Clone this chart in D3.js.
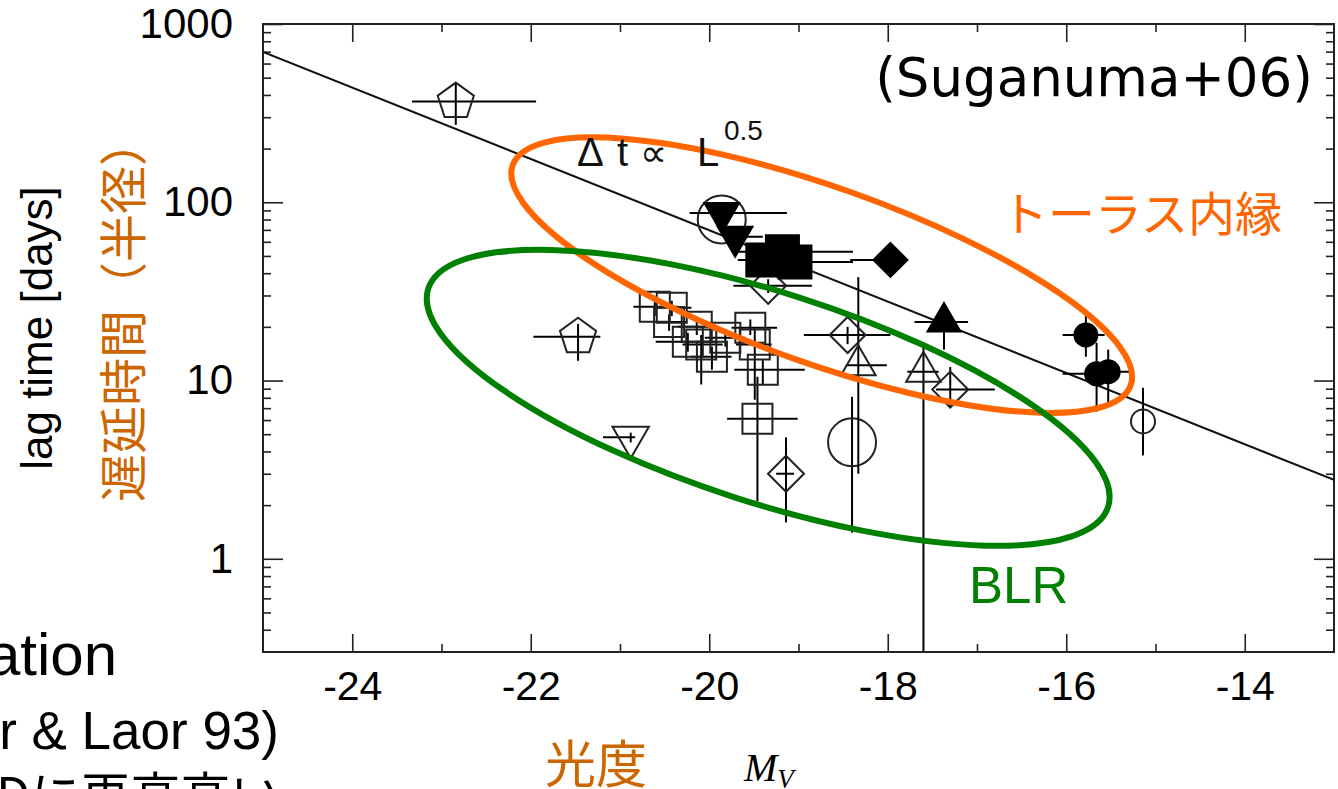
<!DOCTYPE html>
<html><head><meta charset="utf-8">
<script src="https://cdn.jsdelivr.net/npm/d3@7"></script>
<style>body{margin:0;background:#fff;overflow:hidden}</style>
</head><body><svg id="c" width="1338" height="789"></svg>
<script>
// ---------- data ----------
const xTicks = [-24, -22, -20, -18, -16, -14];
const xMinorTicks = [-23, -21, -19, -17, -15];
const yTicks = [1, 10, 100, 1000];
const yMinorTicks = [0.4,0.5,0.6,0.7,0.8,0.9, 2,3,4,5,6,7,8,9, 20,30,40,50,60,70,80,90, 200,300,400,500,600,700,800,900];
const xDomain = [-25, -13];
const yDomain = [0.3, 1000];

// rows: [M_V, lag, M_lo, M_hi, lag_lo, lag_hi]
const openPentagons = [
  [-22.84, 367, -23.33, -21.94, 272, 467],
  [-21.47, 17.6, -21.97, -21.22, 12.9, 20.8]
];
const openInvTriangles = [
  [-20.88, 4.8, -21.19, -20.83, 4.5, 5.1]
];
const openCirclesLarge = [
  [-19.86, 80, -19.86, -19.86, 80, 80],
  [-18.40, 4.5, -18.40, -18.40, 1.4, 8.1]
];
const openCirclesSmall = [
  [-15.14, 5.9, -15.14, -15.14, 3.8, 9.1]
];
const openTriangles = [
  [-18.33, 12.2, -18.47, -18.01, 3.0, 38],
  [-17.60, 11.2, -17.78, -17.43, 0.2, 15.5]
];
const openDiamonds = [
  [-19.34, 34.0, -19.73, -18.85, 31, 37],
  [-18.45, 18.0, -18.94, -17.97, 16, 20],
  [-17.30, 8.9, -17.46, -16.80, 7.1, 11.9],
  [-19.14, 3.0, -19.25, -19.05, 1.6, 4.8]
];
const openSquares = [
  [-20.61, 25.9, -20.85, -20.35, 23, 29],
  [-20.42, 25.6, -20.60, -20.20, 23, 28],
  [-20.45, 21.3, -20.60, -20.25, 19, 23.5],
  [-20.24, 16.5, -20.60, -19.90, 14.5, 18.5],
  [-20.14, 20.0, -20.35, -19.90, 18, 22],
  [-20.09, 15.9, -20.30, -19.85, 9.5, 18],
  [-19.97, 13.6, -20.20, -19.75, 11.5, 15.5],
  [-19.82, 17.4, -20.05, -19.60, 15.5, 19.5],
  [-19.54, 19.8, -19.75, -19.24, 18, 22],
  [-19.49, 15.9, -19.70, -19.30, 7.8, 19.5],
  [-19.40, 11.5, -19.72, -18.93, 9.5, 13],
  [-19.46, 6.1, -19.80, -19.01, 2.1, 10.5]
];
const filledInvTriangles = [
  [-19.86, 87, -20.22, -19.13, 80, 95],
  [-19.71, 64, -19.82, -19.40, 60, 68]
];
const filledSquares = [
  [-19.18, 52.7, -19.68, -18.39, 50, 56],
  [-19.40, 47.5, -19.68, -18.90, 45, 50],
  [-19.04, 46.3, -19.30, -18.39, 44, 49]
];
const filledDiamonds = [
  [-17.97, 47.5, -18.42, -17.97, 47.5, 47.5]
];
const filledTriangles = [
  [-17.37, 21.3, -17.70, -17.10, 14.9, 22]
];
const filledCircles = [
  [-15.78, 18.0, -16.04, -15.57, 13.6, 24],
  [-15.66, 10.9, -16.04, -15.66, 6.7, 16.3],
  [-15.53, 11.2, -15.53, -15.26, 7.1, 14.9]
];
// fitted relation  Δt ∝ L^0.5
const fitM = [-25, -13];
const fitLag = [697, 2.77];
// annotation ellipses: centre in data units
const ellipseCentersM = [-18.74, -19.34];
const ellipseCentersLag = [39.0, 8.0];

// ---------- setup ----------
const svg = d3.select("#c");
const x = d3.scaleLinear().domain(xDomain).range([263, 1334]);
const y = d3.scaleLog().domain(yDomain).range([652, 24]);
const FONT = "'Liberation Sans', Arial, sans-serif";
const JP = "'Noto Sans CJK JP', sans-serif";

svg.append("defs").append("clipPath").attr("id","pc")
  .append("rect").attr("x",263).attr("y",24).attr("width",1071).attr("height",628);

// ---------- axes ----------
function styleAxis(g){ g.select(".domain").remove(); g.selectAll(".tick line").attr("stroke","#222").attr("stroke-width",1.6); g.selectAll("text").attr("font-family",FONT).attr("fill","#000"); }
svg.append("g").attr("transform","translate(0,652)")
  .call(d3.axisBottom(x).tickValues(xTicks).tickSize(-18).tickPadding(19).tickFormat(d=>String(d)))
  .call(styleAxis).selectAll("text").attr("font-size",41);
svg.append("g").attr("transform","translate(0,652)")
  .call(d3.axisBottom(x).tickValues(xMinorTicks).tickSize(-8).tickFormat("")).call(styleAxis);
svg.append("g").attr("transform","translate(0,24)")
  .call(d3.axisTop(x).tickValues(xTicks).tickSize(-18).tickFormat("")).call(styleAxis);
svg.append("g").attr("transform","translate(0,24)")
  .call(d3.axisTop(x).tickValues(xMinorTicks).tickSize(-8).tickFormat("")).call(styleAxis);
svg.append("g").attr("transform","translate(263,0)")
  .call(d3.axisLeft(y).tickValues(yTicks).tickSize(-20).tickPadding(30).tickFormat(d=>String(d)))
  .call(styleAxis).selectAll("text").attr("font-size",42);
svg.append("g").attr("transform","translate(263,0)")
  .call(d3.axisLeft(y).tickValues(yMinorTicks).tickSize(-8).tickFormat("")).call(styleAxis);
svg.append("g").attr("transform","translate(1334,0)")
  .call(d3.axisRight(y).tickValues(yTicks).tickSize(-20).tickFormat("")).call(styleAxis);
svg.append("g").attr("transform","translate(1334,0)")
  .call(d3.axisRight(y).tickValues(yMinorTicks).tickSize(-8).tickFormat("")).call(styleAxis);
svg.append("rect").attr("x",263).attr("y",24).attr("width",1071).attr("height",628)
  .attr("fill","none").attr("stroke","#222").attr("stroke-width",2);

// ---------- plot ----------
const plot = svg.append("g").attr("clip-path","url(#pc)");
plot.append("path").datum(fitM.map((m,i)=>[m,fitLag[i]]))
  .attr("d", d3.line().x(d=>x(d[0])).y(d=>y(d[1])))
  .attr("stroke","#111").attr("stroke-width",2).attr("fill","none");

function poly(n, R, rot){
  const pts=[]; for(let i=0;i<n;i++){const a=rot+i*2*Math.PI/n; pts.push([R*Math.cos(a),R*Math.sin(a)]);}
  return "M"+pts.map(p=>p[0].toFixed(2)+","+p[1].toFixed(2)).join("L")+"Z";
}
const up=-Math.PI/2, down=Math.PI/2;
function drawSet(data, kind, filled, size){
  const g = plot.append("g");
  data.forEach(d=>{
    const cx=x(d[0]), cy=y(d[1]);
    if(d[2]!==d[3]) g.append("line").attr("x1",x(d[2])).attr("x2",x(d[3])).attr("y1",cy).attr("y2",cy).attr("stroke","#000").attr("stroke-width",2);
    if(d[4]!==d[5]) g.append("line").attr("x1",cx).attr("x2",cx).attr("y1",y(d[4])).attr("y2",y(d[5])).attr("stroke","#000").attr("stroke-width",2);
  });
  data.forEach(d=>{
    const cx=x(d[0]), cy=y(d[1]);
    let el;
    if(kind==="circle") el=g.append("circle").attr("cx",cx).attr("cy",cy).attr("r",size);
    else {
      let p;
      if(kind==="pentagon") p=poly(5,size,up);
      if(kind==="triangle") p=poly(3,size,up);
      if(kind==="invtriangle") p=poly(3,size,down);
      if(kind==="diamond") p=poly(4,size,up);
      if(kind==="square") p=poly(4,size*Math.SQRT2/2,Math.PI/4);
      el=g.append("path").attr("d",p).attr("transform",`translate(${cx},${cy})`);
    }
    el.attr("fill", filled?"#000":"none").attr("stroke", filled?"#000":"#222").attr("stroke-width",2);
  });
}
drawSet(openSquares,"square",false,30);
drawSet(openPentagons,"pentagon",false,19);
drawSet(openInvTriangles,"invtriangle",false,21);
drawSet(openCirclesLarge,"circle",false,24);
drawSet(openCirclesSmall,"circle",false,12);
drawSet(openTriangles,"triangle",false,20);
drawSet(openDiamonds,"diamond",false,18);
drawSet(filledInvTriangles,"invtriangle",true,20);
drawSet(filledSquares,"square",true,33);
drawSet(filledDiamonds,"diamond",true,17);
drawSet(filledTriangles,"triangle",true,19);
drawSet(filledCircles,"circle",true,11.5);

// ---------- annotation ellipses ----------
const ellSpec = [
  {rx:328, ry:88, rot:19.6, color:"#FF6600"},
  {rx:357, ry:105, rot:17.8, color:"#008000"}
];
ellSpec.forEach((e,i)=>{
  svg.append("ellipse").attr("cx",0).attr("cy",0).attr("rx",e.rx).attr("ry",e.ry)
    .attr("transform",`translate(${x(ellipseCentersM[i])},${y(ellipseCentersLag[i])}) rotate(${e.rot})`)
    .attr("fill","none").attr("stroke",e.color).attr("stroke-width",6);
});

// ---------- texts ----------
const rel = svg.append("text").attr("font-family",FONT).attr("font-size",40).attr("fill","#111");
rel.append("tspan").attr("x",577).attr("y",166).text("Δ");
rel.append("tspan").attr("x",617).attr("y",166).text("t");
rel.append("tspan").attr("x",640).attr("y",166).attr("font-family","'DejaVu Sans', sans-serif").attr("font-size",38).text("∝");
rel.append("tspan").attr("x",697).attr("y",166).text("L");
rel.append("tspan").attr("x",724).attr("y",140).attr("font-size",28).text("0.5");

svg.append("text").attr("x",1313).attr("y",96).attr("text-anchor","end")
  .attr("font-family","'DejaVu Sans', Verdana, sans-serif").attr("font-size",53).text("(Suganuma+06)");
svg.append("text").attr("x",1001).attr("y",231).attr("font-family",JP).attr("font-size",47)
  .attr("fill","#FF6600").text("トーラス内縁");
svg.append("text").attr("x",969).attr("y",603).attr("font-family",FONT).attr("font-size",51)
  .attr("fill","#008000").text("BLR");
svg.append("text").attr("transform","translate(52,328) rotate(-90)").attr("text-anchor","middle")
  .attr("font-family",FONT).attr("font-size",44).text("lag time [days]");
svg.append("text").attr("transform","translate(141,310) rotate(-90)").attr("text-anchor","middle")
  .attr("font-family",JP).attr("font-size",48).attr("fill","#CC6600").text("遅延時間（半径）");
svg.append("text").attr("x",545).attr("y",783).attr("font-family",JP).attr("font-size",51)
  .attr("fill","#CC6600").text("光度");
const mv = svg.append("text").attr("x",744).attr("y",781).attr("font-family","'Liberation Serif', serif")
  .attr("font-style","italic").attr("font-size",40);
mv.append("tspan").text("M");
mv.append("tspan").attr("font-size",27).attr("dy",7).text("V");

svg.append("text").attr("x",117).attr("y",675).attr("text-anchor","end").attr("font-family",FONT)
  .attr("font-size",60).text("ation");
svg.append("text").attr("x",279).attr("y",749).attr("text-anchor","end").attr("font-family",FONT)
  .attr("font-size",53).text("r & Laor 93)");
svg.append("text").attr("x",-4).attr("y",814).attr("font-family",JP)
  .attr("font-size",50).text("Dに再高高い");
</script></body></html>
